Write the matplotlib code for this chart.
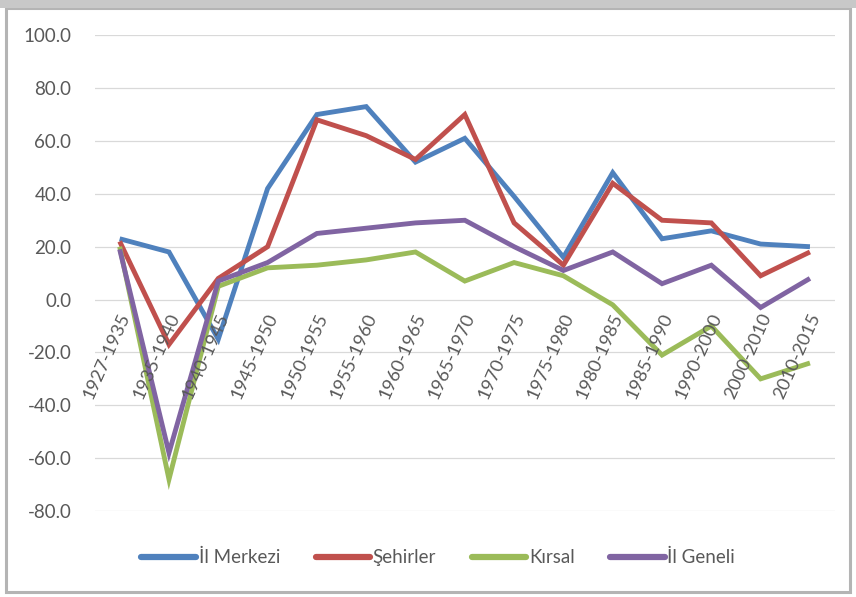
import numpy as np
import matplotlib.pyplot as plt
from matplotlib.patches import Rectangle
from matplotlib.ticker import FuncFormatter

plt.rcParams['font.family'] = ['Lato', 'DejaVu Sans']
plt.rcParams['axes.unicode_minus'] = False

periods = ['1927-1935', '1935-1940', '1940-1945', '1945-1950', '1950-1955',
           '1955-1960', '1960-1965', '1965-1970', '1970-1975', '1975-1980',
           '1980-1985', '1985-1990', '1990-2000', '2000-2010', '2010-2015']

il_merkezi = [23, 18, -15, 42, 70, 73, 52, 61, 39, 16, 48, 23, 26, 21, 20]
sehirler = [22, -17, 8, 20, 68, 62, 53, 70, 29, 13, 44, 30, 29, 9, 18]
kirsal = [20, -68, 5, 12, 13, 15, 18, 7, 14, 9, -2, -21, -10, -30, -24]
il_geneli = [19, -58, 7, 14, 25, 27, 29, 30, 20, 11, 18, 6, 13, -3, 8]

series_names = ['İl Merkezi', 'Şehirler', 'Kırsal', 'İl Geneli']
colors = ['#4F81BD', '#C0504D', '#9BBB59', '#8064A2']

fig = plt.figure(figsize=(8.56, 5.97), dpi=100)
fig.patch.set_facecolor('white')

# chart frame like the Excel chart area
fig.patches.append(Rectangle((0.007, 0.008), 0.986, 0.978, transform=fig.transFigure,
                             fill=False, edgecolor='#b4b4b4', linewidth=2.2))
fig.patches.append(Rectangle((0.0, 0.987), 1.0, 0.013, transform=fig.transFigure,
                             facecolor='#c8c8c8', edgecolor='none'))

ax = fig.add_axes([0.111, 0.144, 0.864, 0.797])
x = np.arange(len(periods))
for vals, name, c in zip([il_merkezi, sehirler, kirsal, il_geneli], series_names, colors):
    ax.plot(x, vals, color=c, linewidth=3.5, label=name, solid_joinstyle='miter',
            solid_capstyle='butt')

ax.set_xlim(-0.5, len(periods) - 0.5)
ax.set_ylim(-80, 100)
ax.set_yticks(np.arange(-80, 101, 20))
ax.yaxis.set_major_formatter(FuncFormatter(lambda v, p: '%.1f' % v))
ax.tick_params(axis='y', length=0, labelsize=13.5, labelcolor='#595959', pad=17)
ax.set_xticks([])
ax.grid(axis='y', color='#d9d9d9', linewidth=0.9)
ax.set_axisbelow(True)
for s in ax.spines.values():
    s.set_visible(False)

# category labels sit just under the zero line, as in Excel
for i, lab in enumerate(periods):
    ax.text(i + 0.12, -5.5, lab, rotation=66, rotation_mode='anchor', ha='right',
            va='center', fontsize=13.2, color='#595959')

leg = ax.legend(loc='center', bbox_to_anchor=(0.512, 0.066), bbox_transform=fig.transFigure,
                ncol=4, frameon=False, fontsize=13.5, handlelength=2.9, handletextpad=0.15,
                columnspacing=1.9, labelcolor='#595959')
for h in leg.get_lines():
    h.set_linewidth(4.5)
    h.set_solid_capstyle('round')

fig.savefig('out.png', dpi=100)
